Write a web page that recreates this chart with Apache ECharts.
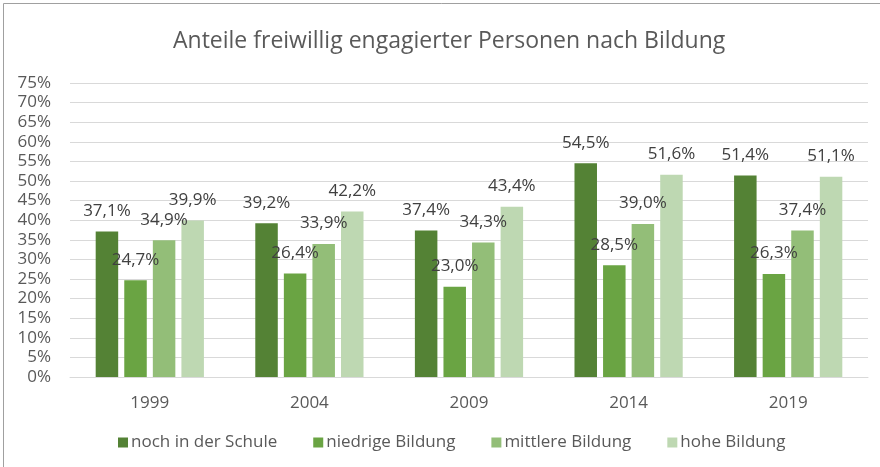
<!DOCTYPE html>
<html>
<head>
<meta charset="utf-8">
<script src="https://cdn.jsdelivr.net/npm/echarts@6/dist/echarts.min.js"></script>
<style>html,body{margin:0;padding:0;background:#fff}#c{width:880px;height:467px}</style>
</head>
<body>
<div id="c"></div>
<script>
const titleText = 'Anteile freiwillig engagierter Personen nach Bildung';
const categories = ['1999', '2004', '2009', '2014', '2019'];
const seriesNames = ['noch in der Schule', 'niedrige Bildung', 'mittlere Bildung', 'hohe Bildung'];
const schule   = [37.1, 39.2, 37.4, 54.5, 51.4];
const niedrig  = [24.7, 26.4, 23.0, 28.5, 26.3];
const mittel   = [34.9, 33.9, 34.3, 39.0, 37.4];
const hoch     = [39.9, 42.2, 43.4, 51.6, 51.1];
const colors = ['#548235', '#6aa443', '#93be78', '#bed8b2'];
const FONT = 'Open Sans';

const values = [schule, niedrig, mittel, hoch];
const chart = echarts.init(document.getElementById('c'), null, {renderer: 'canvas'});
chart.setOption({
  animation: false,
  textStyle: {fontFamily: FONT},
  title: {
    text: titleText, left: 168, top: 25,
    textStyle: {fontFamily: FONT, fontSize: 23, fontWeight: 'normal', color: '#595959'}
  },
  graphic: [{
    type: 'polyline', silent: true,
    shape: {points: [[3.5, 467], [3.5, 3.5], [880, 3.5]]},
    style: {stroke: '#a0a0a0', lineWidth: 1, fill: null}
  }],
  legend: {
    bottom: 11, left: 113, itemWidth: 10, itemHeight: 10, itemGap: 36,
    icon: 'rect',
    textStyle: {fontFamily: FONT, fontSize: 17, color: '#595959', padding: [0, 0, 0, -2]},
    data: seriesNames
  },
  grid: {left: 70, right: 12, top: 83, bottom: 90},
  xAxis: {
    type: 'category', data: categories,
    axisLine: {show: true, lineStyle: {color: '#d9d9d9'}},
    axisTick: {show: false},
    axisLabel: {fontFamily: FONT, fontSize: 17, color: '#595959', margin: 18}
  },
  yAxis: {
    type: 'value', min: 0, max: 75, interval: 5,
    axisLine: {show: false}, axisTick: {show: false},
    splitLine: {lineStyle: {color: '#d9d9d9'}},
    axisLabel: {fontFamily: FONT, fontSize: 17, color: '#595959', margin: 19,
      formatter: v => v + '%'}
  },
  series: seriesNames.map((n, i) => ({
    name: n, type: 'bar', data: values[i],
    barWidth: 22.5, barGap: '27%',
    itemStyle: {color: colors[i]},
    label: {
      show: true, position: 'top', distance: 12,
      fontFamily: FONT, fontSize: 17, color: '#404040', lineHeight: 17,
      formatter: p => p.value.toFixed(1).replace('.', ',') + '%'
    }
  }))
});
</script>
</body>
</html>
